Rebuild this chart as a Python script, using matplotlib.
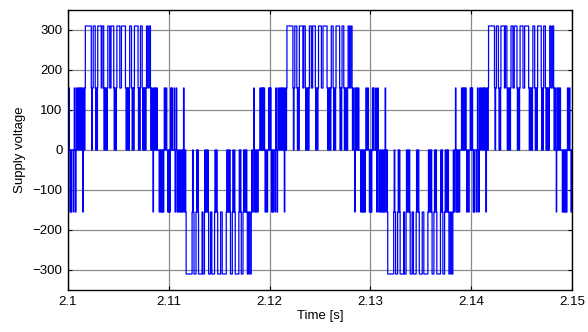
import numpy as np
import matplotlib.pyplot as plt

plt.rcParams['font.family'] = ['Liberation Sans', 'DejaVu Sans']

# switching pattern of one positive half-cycle, times in ms from its start
lower_pulses = [(0.00, 0.05), (0.08, 0.14), (0.62, 0.68), (0.83, 0.95), (1.05, 1.15),
                (1.22, 1.32), (1.38, 1.43), (1.56, 1.62), (1.68, 2.36), (2.42, 2.76),
                (2.82, 2.88), (2.92, 3.58), (3.62, 3.70), (3.78, 3.86), (3.90, 4.58),
                (4.64, 4.72), (4.80, 5.76), (5.82, 5.90), (5.96, 6.02), (6.08, 6.36),
                (6.42, 6.50), (6.55, 6.99), (7.04, 7.10), (7.15, 7.42), (7.48, 7.56),
                (7.62, 7.68), (7.74, 8.22), (8.28, 8.38), (8.52, 8.58), (8.64, 8.72),
                (8.80, 8.86), (9.55, 9.62), (9.72, 9.80)]
upper_pulses = [(1.72, 2.31), (2.50, 2.70), (2.95, 3.30), (3.38, 3.54), (3.95, 4.14),
                (4.27, 4.54), (4.85, 5.14), (5.30, 5.70), (6.12, 6.30), (6.59, 6.95),
                (7.19, 7.36), (7.79, 7.92), (8.05, 8.18)]
reverse_pulses = [(0.20, 0.25), (0.30, 0.36), (0.53, 0.58), (0.74, 0.79), (1.46, 1.51),
                  (8.44, 8.48), (9.04, 9.10), (9.18, 9.24), (9.30, 9.36), (9.42, 9.50),
                  (9.90, 9.96)]

step_voltage = 155.0
t_start = 2.1
half_period_ms = 10.0
n_halves = 5

x_ticks = [2.1, 2.11, 2.12, 2.13, 2.14, 2.15]
x_tick_labels = ['2.1', '2.11', '2.12', '2.13', '2.14', '2.15']
y_ticks = [-300, -200, -100, 0, 100, 200, 300]


def half_cycle(sign):
    edges = [0.0, half_period_ms]
    for group in (lower_pulses, upper_pulses, reverse_pulses):
        for a, b in group:
            edges += [a, b]
    edges = np.unique(edges)
    mids = (edges[:-1] + edges[1:]) / 2
    level = np.zeros_like(mids)
    for a, b in lower_pulses:
        level += step_voltage * ((mids > a) & (mids < b))
    for a, b in upper_pulses:
        level += step_voltage * ((mids > a) & (mids < b))
    for a, b in reverse_pulses:
        level -= step_voltage * ((mids > a) & (mids < b))
    return edges[:-1], sign * level


times, volts = [], []
for k in range(n_halves):
    e, v = half_cycle(1 if k % 2 == 0 else -1)
    times.append(t_start + (k * half_period_ms + e) / 1000.0)
    volts.append(v)
times = np.concatenate(times + [np.array([t_start + n_halves * half_period_ms / 1000.0])])
volts = np.concatenate(volts)
volts = np.append(volts, volts[-1])

fig = plt.figure(figsize=(5.88, 3.32), dpi=100)
ax = fig.add_axes([68 / 588, 1 - 290 / 332, 504 / 588, 280 / 332])
ax.step(times, volts, where='post', color='#0000ff', linewidth=0.9)

ax.set_xlim(2.1, 2.15)
ax.set_ylim(-350, 350)
ax.set_xticks(x_ticks)
ax.set_xticklabels(x_tick_labels)
ax.set_yticks(y_ticks)
ax.grid(True, color='#8a8a8a', linewidth=0.9)
ax.tick_params(direction='in', length=3, labelsize=9.5, top=True, right=True, pad=4)
for s in ax.spines.values():
    s.set_linewidth(1.0)
ax.set_xlabel('Time [s]', fontsize=9.5, labelpad=2)
ax.set_ylabel('Supply voltage', fontsize=9.5, labelpad=5)

fig.savefig('out.png', dpi=100)
